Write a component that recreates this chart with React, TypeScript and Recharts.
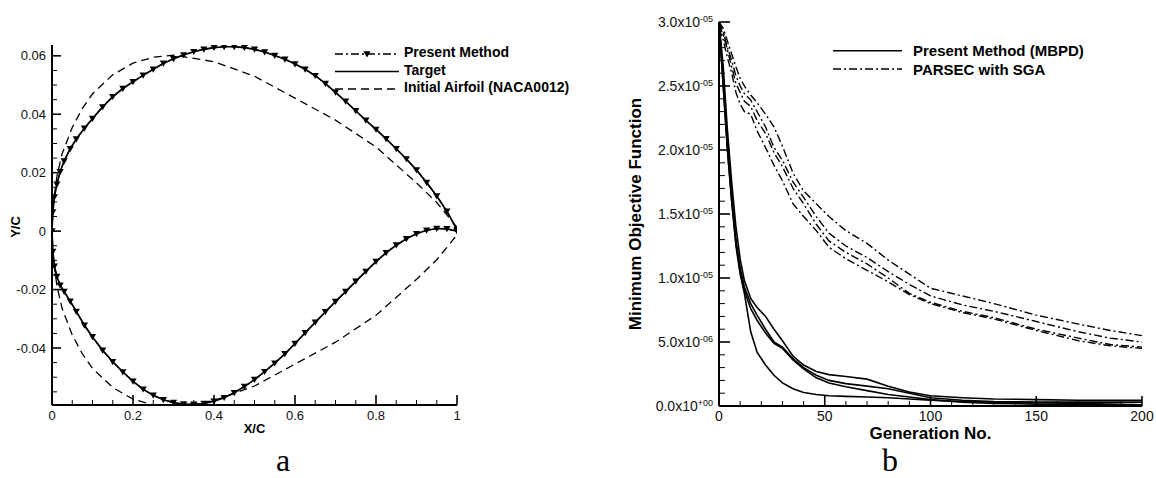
import React from 'react';
import { LineChart, Line, XAxis, YAxis, Legend, Label } from 'recharts';

const FONT = '"Liberation Sans", Arial, Helvetica, sans-serif';
const SERIF = '"Liberation Serif", "Times New Roman", serif';

// ---- (a) airfoil shapes, y/c at these x/c stations ----
const stationX = [
  0, 0.002, 0.006, 0.012, 0.02, 0.03, 0.045, 0.06, 0.08, 0.1, 0.125, 0.15, 0.175, 0.2, 0.225, 0.25,
  0.275, 0.3, 0.325, 0.35, 0.375, 0.4, 0.425, 0.45, 0.475, 0.5, 0.525, 0.55, 0.575, 0.6, 0.625, 0.65,
  0.675, 0.7, 0.725, 0.75, 0.775, 0.8, 0.825, 0.85, 0.875, 0.9, 0.925, 0.95, 0.975, 1,
];
const targetUpper = [
  0, 0.0065, 0.0117, 0.016, 0.0203, 0.024, 0.0282, 0.0315, 0.0352, 0.0385, 0.0425, 0.046, 0.0488, 0.0511,
  0.0533, 0.0554, 0.0574, 0.059, 0.0603, 0.0614, 0.0622, 0.0628, 0.0631, 0.0631, 0.0628, 0.0622, 0.0613,
  0.0601, 0.0588, 0.0572, 0.0554, 0.0532, 0.0505, 0.0475, 0.0444, 0.0412, 0.0379, 0.0348, 0.0316, 0.0282,
  0.0247, 0.0209, 0.0166, 0.012, 0.0068, 0.0005,
];
const targetLower = [
  0, -0.007, -0.012, -0.0155, -0.0185, -0.0207, -0.024, -0.0275, -0.0322, -0.0362, -0.0408, -0.0447,
  -0.0482, -0.0514, -0.0541, -0.0562, -0.0577, -0.0587, -0.0592, -0.0593, -0.059, -0.0582, -0.057,
  -0.0553, -0.0532, -0.0508, -0.0481, -0.0452, -0.042, -0.0385, -0.0348, -0.0312, -0.0276, -0.0241,
  -0.0207, -0.0172, -0.0138, -0.0104, -0.0074, -0.0048, -0.0026, -0.0009, 0.0003, 0.0009, 0.0008, 0,
];
// the optimised shape sits right on the target
const presentUpper = targetUpper;
const presentLower = targetLower;

const nacaX = [0, 0.0025, 0.0125, 0.025, 0.05, 0.075, 0.1, 0.15, 0.2, 0.25, 0.3, 0.4, 0.5, 0.6, 0.7, 0.8, 0.9, 0.95, 1];
const nacaUpper = [0, 0.009, 0.019, 0.0265, 0.0355, 0.042, 0.047, 0.0535, 0.0575, 0.0595, 0.0602, 0.058, 0.053, 0.0455, 0.038, 0.0288, 0.0165, 0.0098, 0.0013];
const nacaLower = [0, -0.009, -0.019, -0.0265, -0.0355, -0.042, -0.047, -0.0535, -0.0575, -0.0595, -0.0602, -0.058, -0.053, -0.0455, -0.038, -0.0288, -0.0165, -0.0098, -0.0013];

const xTicksA = [0, 0.2, 0.4, 0.6, 0.8, 1];
const xTickLabelsA = ['0', '0.2', '0.4', '0.6', '0.8', '1'];
const yTicksA = [-0.04, -0.02, 0, 0.02, 0.04, 0.06];
const yTickLabelsA = ['-0.04', '-0.02', '0', '0.02', '0.04', '0.06'];

// ---- (b) convergence history, objective in units of 1e-6 ----
const generations = [0, 2, 4, 6, 8, 10, 12, 15, 18, 22, 26, 30, 35, 40, 46, 52, 60, 70, 80, 90, 100, 115, 130, 150, 170, 185, 200];
const mbpdRun1 = [30, 25, 20, 16, 12.5, 10.3, 8.8, 5.8, 4.2, 3.2, 2.4, 1.8, 1.35, 1.05, 0.9, 0.8, 0.75, 0.7, 0.65, 0.55, 0.45, 0.35, 0.3, 0.25, 0.2, 0.15, 0.1];
const mbpdRun2 = [30, 26.5, 21.5, 17.5, 14, 11.5, 9.8, 8.4, 7.7, 7.0, 6.0, 5.1, 3.9, 3.2, 2.7, 2.45, 2.3, 2.1, 1.55, 1.1, 0.8, 0.65, 0.55, 0.5, 0.45, 0.45, 0.45];
const mbpdRun3 = [30, 25.5, 20.5, 16.5, 13, 10.8, 9.3, 8.0, 7.1, 6.0, 5.0, 4.6, 3.7, 3.0, 2.4, 2.0, 1.75, 1.55, 1.35, 1.0, 0.65, 0.45, 0.35, 0.3, 0.3, 0.3, 0.3];
const mbpdRun4 = [30, 25, 20, 16, 12.8, 10.5, 9.0, 7.6, 6.7, 5.7, 4.9, 4.5, 3.6, 2.9, 2.2, 1.8, 1.5, 1.2, 0.9, 0.7, 0.5, 0.3, 0.2, 0.15, 0.1, 0.1, 0.1];
const parsecRun1 = [30, 29.5, 28.5, 27.5, 26.5, 25.6, 25, 24.3, 23.7, 22.8, 21.8, 20.3, 18.2, 16.8, 15.8, 14.8, 13.7, 12.7, 11.4, 10.3, 9.2, 8.6, 8.0, 7.1, 6.4, 5.9, 5.5];
const parsecRun2 = [30, 29.2, 28, 27, 25.8, 25, 24.4, 23.9, 23.0, 21.8, 20.2, 19.2, 17.5, 16.3, 14.8, 13.5, 12.5, 11.6, 10.5, 9.5, 8.6, 7.9, 7.4, 6.6, 5.8, 5.3, 5.0];
const parsecRun3 = [29.8, 29, 27.8, 26.5, 25.2, 24.5, 23.8, 23.4, 22.3, 21.3, 19.8, 18.7, 17.0, 15.8, 14.2, 12.9, 12.0, 11.1, 10.0, 8.8, 8.1, 7.4, 6.9, 6.0, 5.3, 4.8, 4.6];
const parsecRun4 = [29.5, 28.6, 27.2, 26, 24.5, 23.6, 23, 22.8, 21.5, 20.2, 18.8, 17.6, 15.8, 14.8, 13.7, 12.4, 11.5, 10.6, 9.7, 8.7, 8.0, 7.3, 6.8, 5.9, 5.1, 4.7, 4.5];

const xTicksB = [0, 50, 100, 150, 200];
const yTicksB = [0, 5, 10, 15, 20, 25, 30];
const yTickMantissaB = ['0.0', '5.0', '1.0', '1.5', '2.0', '2.5', '3.0'];
const yTickExpB = ['+00', '-06', '-05', '-05', '-05', '-05', '-05'];

// major + minor tick positions
const steps = (lo: number, hi: number, step: number) => {
  const out: number[] = [];
  for (let v = lo; v <= hi + step / 2; v += step) out.push(+v.toFixed(6));
  return out;
};
const majorIndex = (v: number, majors: number[]) => majors.findIndex((m) => Math.abs(m - v) < 1e-6);

// closed outline: trailing edge -> upper -> leading edge -> lower -> trailing edge
const outline = (xs: number[], up: number[], low: number[]) => [
  ...xs.map((x, i) => ({ x, y: up[i] })).reverse(),
  ...xs.slice(1).map((x, i) => ({ x, y: low[i + 1] })),
];
const targetShape = outline(stationX, targetUpper, targetLower);
const presentShape = outline(stationX, presentUpper, presentLower);
const nacaShape = outline(nacaX, nacaUpper, nacaLower);

const historyRows = generations.map((gen, i) => ({
  gen,
  m1: mbpdRun1[i], m2: mbpdRun2[i], m3: mbpdRun3[i], m4: mbpdRun4[i],
  p1: parsecRun1[i], p2: parsecRun2[i], p3: parsecRun3[i], p4: parsecRun4[i],
}));

const DASH_DOT = '8 3 2 3';
const DASHED = '8 5';

const triangle = (cx: number, cy: number) => `M${cx - 3.6},${cy - 2.8}L${cx + 3.6},${cy - 2.8}L${cx},${cy + 3.4}Z`;

const triangleDot = (p: any) => {
  const { cx, cy, key } = p;
  if (cx == null || cy == null) return <g key={key} />;
  return <path key={key} d={triangle(cx, cy)} fill="#000" />;
};

// inward ticks, labels outside
const yTickA = ({ x, y, payload }: any) => {
  const i = majorIndex(payload.value, yTicksA);
  return (
    <g>
      <line x1={x} y1={y} x2={x + (i >= 0 ? 9 : 5)} y2={y} stroke="#000" strokeWidth={i >= 0 ? 1.6 : 1} />
      {i >= 0 && (
        <text x={x - 6} y={y} dy="0.35em" textAnchor="end" fontSize={13} fontFamily={FONT} fill="#111">
          {yTickLabelsA[i]}
        </text>
      )}
    </g>
  );
};

const xTickA = ({ x, y, payload }: any) => {
  const i = majorIndex(payload.value, xTicksA);
  return (
    <g>
      <line x1={x} y1={y} x2={x} y2={y - (i >= 0 ? 10 : 5)} stroke="#000" strokeWidth={i >= 0 ? 1.6 : 1} />
      {i >= 0 && (
        <text x={x} y={y + 15} textAnchor="middle" fontSize={13} fontFamily={FONT} fill="#111">
          {xTickLabelsA[i]}
        </text>
      )}
    </g>
  );
};

const yTickB = ({ x, y, payload }: any) => {
  const i = majorIndex(payload.value, yTicksB);
  return (
    <g>
      <line x1={x} y1={y} x2={x + (i >= 0 ? 11 : 6)} y2={y} stroke="#000" strokeWidth={i >= 0 ? 1.6 : 1} />
      {i >= 0 && (
        <text x={x - 6} y={y} dy="0.35em" textAnchor="end" fontSize={14} fontFamily={FONT} fill="#111">
          {yTickMantissaB[i]}x10
          <tspan dy="-0.5em" fontSize={9}>{yTickExpB[i]}</tspan>
        </text>
      )}
    </g>
  );
};

const xTickB = ({ x, y, payload }: any) => {
  const i = majorIndex(payload.value, xTicksB);
  return (
    <g>
      <line x1={x} y1={y} x2={x} y2={y - (i >= 0 ? 10 : 5)} stroke="#000" strokeWidth={i >= 0 ? 1.6 : 1} />
      {i >= 0 && (
        <text x={x} y={y + 15} textAnchor="middle" fontSize={14} fontFamily={FONT} fill="#111">
          {xTicksB[i]}
        </text>
      )}
    </g>
  );
};

const legendA = () => (
  <svg width={250} height={60} style={{ overflow: 'visible' }}>
    <g fontFamily={FONT} fontWeight="bold" fontSize={14} fill="#000">
      <line x1={5} x2={69} y1={14} y2={14} stroke="#000" strokeWidth={1.3} strokeDasharray={DASH_DOT} />
      <path d={triangle(37, 14)} fill="#000" />
      <text x={74} y={17}>Present Method</text>
      <line x1={5} x2={69} y1={31.5} y2={31.5} stroke="#000" strokeWidth={1.6} />
      <text x={74} y={34.5}>Target</text>
      <line x1={5} x2={69} y1={49} y2={49} stroke="#000" strokeWidth={1.3} strokeDasharray={DASHED} />
      <text x={74} y={52}>Initial Airfoil (NACA0012)</text>
    </g>
  </svg>
);

const legendB = () => (
  <svg width={280} height={50} style={{ overflow: 'visible' }}>
    <g fontFamily={FONT} fontWeight="bold" fontSize={15} fill="#000">
      <line x1={13} x2={82} y1={15.7} y2={15.7} stroke="#000" strokeWidth={1.6} />
      <text x={93} y={21}>Present Method (MBPD)</text>
      <line x1={13} x2={82} y1={34} y2={34} stroke="#000" strokeWidth={1.5} strokeDasharray={DASH_DOT} />
      <text x={93} y={39.5}>PARSEC with SGA</text>
    </g>
  </svg>
);

function AirfoilChart() {
  return (
    <LineChart width={600} height={478} margin={{ top: 45, right: 143, bottom: 72, left: 51 }}>
      <XAxis
        dataKey="x"
        type="number"
        domain={[0, 1]}
        allowDataOverflow
        ticks={steps(0, 1, 0.05)}
        interval={0}
        height={1}
        tickSize={0}
        tickMargin={0}
        tickLine={false}
        tick={xTickA}
        axisLine={{ stroke: '#000', strokeWidth: 2 }}
      >
        <Label
          content={({ viewBox }: any) => (
            <text x={viewBox.x + viewBox.width / 2} y={viewBox.y + 28} textAnchor="middle"
              fontFamily={FONT} fontWeight="bold" fontSize={13} fill="#000">X/C</text>
          )}
        />
      </XAxis>
      <YAxis
        type="number"
        domain={[-0.0595, 0.0637]}
        allowDataOverflow
        ticks={steps(-0.055, 0.06, 0.005)}
        interval={0}
        width={1}
        tickSize={0}
        tickMargin={0}
        tickLine={false}
        tick={yTickA}
        axisLine={{ stroke: '#000', strokeWidth: 2 }}
      >
        <Label
          content={({ viewBox }: any) => (
            <text transform={`translate(${viewBox.x - 31},${viewBox.y + viewBox.height / 2 + 2}) rotate(-90)`}
              textAnchor="middle" fontFamily={FONT} fontWeight="bold" fontSize={13} fill="#000">Y/C</text>
          )}
        />
      </YAxis>
      <Legend layout="vertical" align="center" verticalAlign="middle" content={legendA}
        wrapperStyle={{ left: 330, top: 40, width: 250, height: 60 }} />
      <Line data={nacaShape} dataKey="y" type="linear" stroke="#000" strokeWidth={1.3}
        strokeDasharray={DASHED} dot={false} isAnimationActive={false} legendType="none" />
      <Line data={targetShape} dataKey="y" type="linear" stroke="#000" strokeWidth={1.7}
        dot={false} isAnimationActive={false} legendType="none" />
      <Line data={presentShape} dataKey="y" type="linear" stroke="#000" strokeWidth={1.2}
        strokeDasharray={DASH_DOT} dot={triangleDot} isAnimationActive={false} legendType="none" />
    </LineChart>
  );
}

function HistoryChart() {
  const mbpd = ['m1', 'm2', 'm3', 'm4'];
  const parsec = ['p1', 'p2', 'p3', 'p4'];
  return (
    <LineChart width={556} height={478} data={historyRows} margin={{ top: 22, right: 14, bottom: 71, left: 118 }}>
      <XAxis
        dataKey="gen"
        type="number"
        domain={[0, 200]}
        allowDataOverflow
        ticks={steps(0, 200, 10)}
        interval={0}
        height={1}
        tickSize={0}
        tickMargin={0}
        tickLine={false}
        tick={xTickB}
        axisLine={{ stroke: '#000', strokeWidth: 2 }}
      >
        <Label
          content={({ viewBox }: any) => (
            <text x={viewBox.x + viewBox.width / 2} y={viewBox.y + 33} textAnchor="middle"
              fontFamily={FONT} fontWeight="bold" fontSize={17} fill="#000">Generation No.</text>
          )}
        />
      </XAxis>
      <YAxis
        type="number"
        domain={[0, 30]}
        allowDataOverflow
        ticks={steps(0, 30, 1)}
        interval={0}
        width={1}
        tickSize={0}
        tickMargin={0}
        tickLine={false}
        tick={yTickB}
        axisLine={{ stroke: '#000', strokeWidth: 2 }}
      >
        <Label
          content={({ viewBox }: any) => (
            <text transform={`translate(${viewBox.x - 77},${viewBox.y + viewBox.height / 2}) rotate(-90)`}
              textAnchor="middle" fontFamily={FONT} fontWeight="bold" fontSize={17} fill="#000">
              Minimum Objective Function
            </text>
          )}
        />
      </YAxis>
      <Legend layout="vertical" align="center" verticalAlign="middle" content={legendB}
        wrapperStyle={{ left: 220, top: 35, width: 280, height: 50 }} />
      {parsec.map((k) => (
        <Line key={k} dataKey={k} type="linear" stroke="#000" strokeWidth={1.4}
          strokeDasharray={DASH_DOT} dot={false} isAnimationActive={false} />
      ))}
      {mbpd.map((k) => (
        <Line key={k} dataKey={k} type="linear" stroke="#000" strokeWidth={1.6}
          dot={false} isAnimationActive={false} />
      ))}
    </LineChart>
  );
}

export default function App() {
  return (
    <div style={{ position: 'absolute', left: 0, top: 0, width: 1156, height: 478, background: '#fff', overflow: 'hidden' }}>
      <div style={{ position: 'absolute', left: 0, top: 0 }}>
        <AirfoilChart />
      </div>
      <div style={{ position: 'absolute', left: 600, top: 0 }}>
        <HistoryChart />
      </div>
      <svg width={1156} height={478} style={{ position: 'absolute', left: 0, top: 0, pointerEvents: 'none' }}>
        <text x={283} y={471} textAnchor="middle" fontFamily={SERIF} fontSize={32} fill="#000">a</text>
        <text x={890} y={471} textAnchor="middle" fontFamily={SERIF} fontSize={32} fill="#000">b</text>
      </svg>
    </div>
  );
}
